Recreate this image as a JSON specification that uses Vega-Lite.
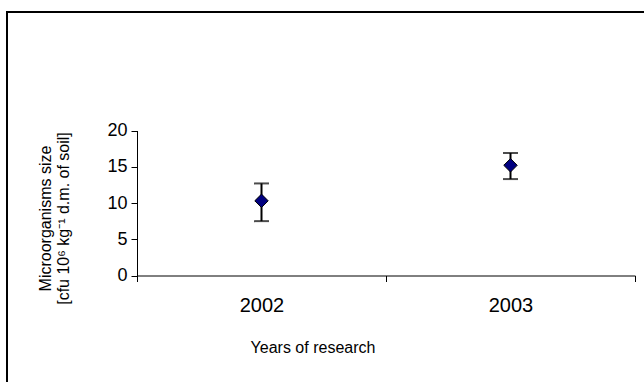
{
  "$schema": "https://vega.github.io/schema/vega-lite/v6.json",
  "autosize": "none",
  "width": 660,
  "height": 390,
  "padding": {"left": 7, "top": 12, "right": 0, "bottom": 0},
  "background": "white",
  "config": {
    "view": {"stroke": "black", "strokeWidth": 2},
    "font": "Liberation Sans",
    "axis": {
      "grid": false,
      "domainColor": "black",
      "tickColor": "black",
      "labelColor": "black",
      "titleColor": "black",
      "labelFont": "Liberation Sans",
      "titleFont": "Liberation Sans",
      "titleFontWeight": "normal"
    }
  },
  "data": {
    "values": [
      {"year": "2002", "mean": 10.3, "lo": 7.5, "hi": 12.7},
      {"year": "2003", "mean": 15.2, "lo": 13.3, "hi": 16.9}
    ]
  },
  "encoding": {
    "x": {
      "field": "year",
      "type": "nominal",
      "scale": {"range": [130, 628], "paddingInner": 0, "paddingOuter": 0},
      "axis": {
        "offset": -126.5,
        "labelAngle": 0,
        "labelFontSize": 20,
        "labelPadding": 14,
        "tickSize": 6,
        "tickBand": "extent",
        "title": "Years of research",
        "titleFontSize": 16,
        "titleX": 305.5,
        "titleY": 77,
        "titleBaseline": "alphabetic",
        "titleAnchor": null
      }
    }
  },
  "layer": [
    {
      "mark": {"type": "rule", "color": "black", "strokeWidth": 2},
      "encoding": {
        "y": {
          "field": "lo",
          "type": "quantitative",
          "scale": {"domain": [0, 20], "nice": false, "range": [263.5, 118.5]},
          "axis": {
            "offset": -130,
            "values": [0, 5, 10, 15, 20],
            "labelFontSize": 18,
            "labelPadding": 4,
            "tickSize": 6,
            "title": ["Microorganisms size", "[cfu 10⁶ kg⁻¹ d.m. of soil]"],
            "titleFontSize": 16,
            "titleLineHeight": 18,
            "titleAngle": -90,
            "titleAlign": "center",
            "titleBaseline": "middle",
            "titleX": -91.5,
            "titleY": 206
          }
        },
        "y2": {"field": "hi"}
      }
    },
    {
      "mark": {"type": "tick", "color": "black", "thickness": 2, "size": 15},
      "encoding": {"y": {"field": "lo", "type": "quantitative"}}
    },
    {
      "mark": {"type": "tick", "color": "black", "thickness": 2, "size": 15},
      "encoding": {"y": {"field": "hi", "type": "quantitative"}}
    },
    {
      "mark": {"type": "point", "shape": "diamond", "size": 180, "filled": true, "fill": "#000080", "stroke": "black", "strokeWidth": 1, "opacity": 1},
      "encoding": {"y": {"field": "mean", "type": "quantitative"}}
    }
  ]
}
